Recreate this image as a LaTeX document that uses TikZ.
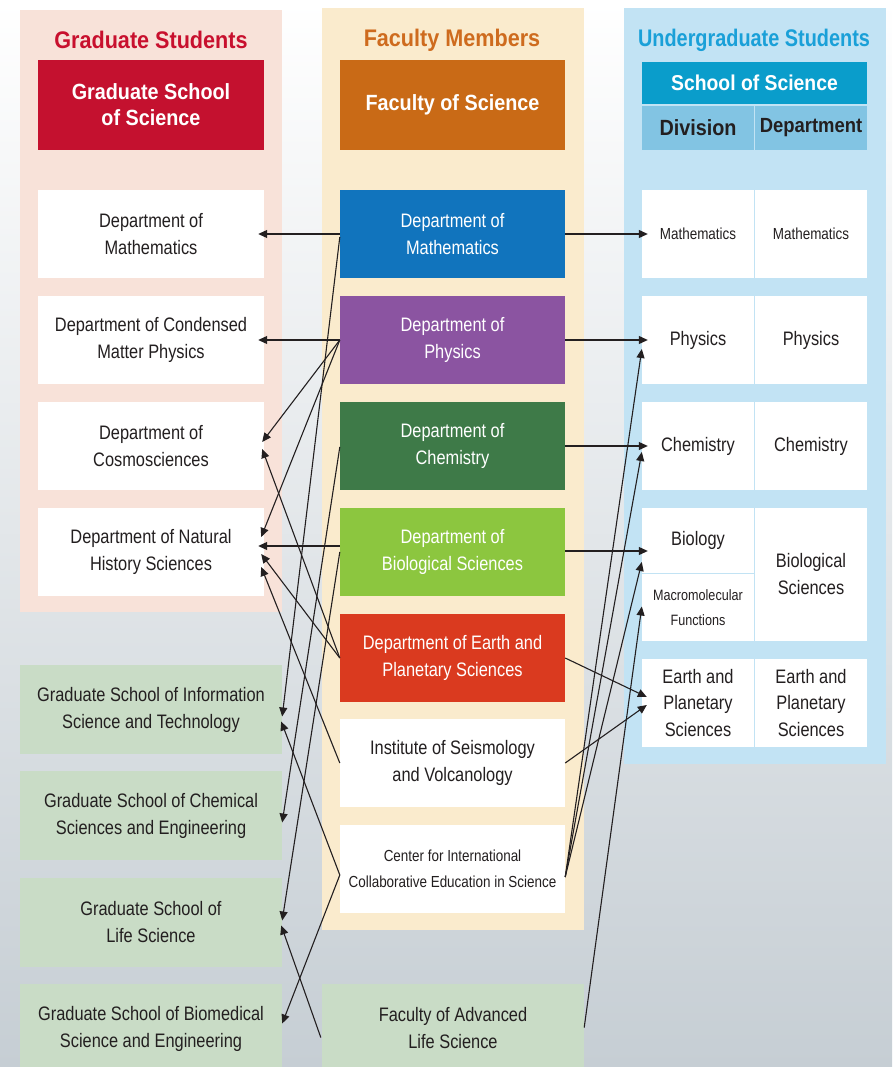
\documentclass[tikz,border=0pt]{standalone}
\usepackage{fontspec}
\setmainfont{Liberation Sans}[FakeStretch=0.84]
\newfontfamily\hdf{Liberation Sans}[FakeStretch=0.9]
\usetikzlibrary{arrows.meta,calc}
\definecolor{bgb}{HTML}{C6CED4}
\definecolor{bgm}{HTML}{F2F6F8}
\definecolor{pinkp}{HTML}{F8E2D9}
\definecolor{creamp}{HTML}{FAEBCD}
\definecolor{bluep}{HTML}{C2E3F4}
\definecolor{gradred}{HTML}{C8102E}
\definecolor{facor}{HTML}{CE6B1E}
\definecolor{ugblue}{HTML}{1AA0D8}
\definecolor{gsred}{HTML}{C4112F}
\definecolor{fsor}{HTML}{C96A16}
\definecolor{ssblue}{HTML}{0A9DCB}
\definecolor{ddblue}{HTML}{82C4E3}
\definecolor{txt}{HTML}{231F20}
\definecolor{lc}{HTML}{231F20}
\definecolor{sage}{HTML}{C9DCC6}
\definecolor{cmath}{HTML}{1174BD}
\definecolor{cphys}{HTML}{8B54A1}
\definecolor{cchem}{HTML}{3E7A48}
\definecolor{cbio}{HTML}{8CC63F}
\definecolor{ceps}{HTML}{DA3A1F}
\begin{document}
\begin{tikzpicture}[x=1pt,y=-1pt,
  base/.style={rectangle, inner sep=0pt, align=center, text=txt, font=\fontsize{19.5}{27}\selectfont},
  gbox/.style={base, fill=white, minimum width=226pt, minimum height=88pt},
  sbox/.style={base, fill=sage, minimum width=262pt, minimum height=89pt},
  fbox/.style={base, minimum width=225pt, minimum height=88pt, text=white},
  ubox/.style={base, fill=white, minimum width=112pt, minimum height=88pt},
  hd/.style={inner sep=0pt, font=\hdf\bfseries\fontsize{24}{28}\selectfont},
  hbox/.style={rectangle, inner sep=0pt, align=center, text=white, font=\hdf\bfseries\fontsize{22}{26}\selectfont},
  arr/.style={draw=lc, line width=1.1pt, -{Triangle[length=9pt,width=8pt]}}]
\useasboundingbox (0,0) rectangle (892,1067);
\fill[top color=white, middle color=bgm, bottom color=bgb] (0,0) rectangle (892,1067);
% panels
\fill[pinkp] (20,10) rectangle (282,612);
\fill[creamp] (322,8) rectangle (584,930);
\fill[bluep] (624,8) rectangle (886,764);
% headers
\node[hd, text=gradred] (tgrad) at (151,40) {Graduate Students};
\node[hd, text=facor] (tfac) at (452,40) {Faculty Members};
\node[hd, text=ugblue] (tug) at (754,40) {\scalebox{0.92}[1]{Undergraduate Students}};
\node[hbox, fill=gsred, minimum width=226pt, minimum height=90pt] (gss) at (151,105) {Graduate School\\of Science};
\node[hbox, fill=fsor, minimum width=225pt, minimum height=90pt] (fs) at (452.5,105) {Faculty of Science};
\node[hbox, fill=ssblue, minimum width=225pt, minimum height=42pt, font=\hdf\bfseries\fontsize{21.5}{26}\selectfont] (ss) at (754.5,83) {School of Science};
\node[hbox, fill=ddblue, text=txt, minimum width=112pt, minimum height=44pt] (hdiv) at (698,128) {Division};
\node[hbox, fill=ddblue, text=txt, minimum width=112pt, minimum height=44pt, font=\hdf\bfseries\fontsize{20.5}{26}\selectfont] (hdep) at (811,128) {Department};
% graduate column
\node[gbox] (gmath) at (151,234) {Department of\\Mathematics};
\node[gbox] (gcmp) at (151,340) {Department of Condensed\\Matter Physics};
\node[gbox] (gcosmo) at (151,446) {Department of\\Cosmosciences};
\node[gbox] (gnat) at (151,552) {Department of Natural\\History Sciences};
\node[sbox] (gist) at (151,709.5) {Graduate School of Information\\Science and Technology};
\node[sbox] (gcse) at (151,815.5) {Graduate School of Chemical\\Sciences and Engineering};
\node[sbox] (gls) at (151,922.5) {Graduate School of\\Life Science};
\node[sbox] (gbse) at (151,1028.5) {Graduate School of Biomedical\\Science and Engineering};
% faculty column
\node[fbox, fill=cmath] (fmath) at (452.5,234) {Department of\\Mathematics};
\node[fbox, fill=cphys] (fphys) at (452.5,340) {Department of\\Physics};
\node[fbox, fill=cchem] (fchem) at (452.5,446) {Department of\\Chemistry};
\node[fbox, fill=cbio] (fbio) at (452.5,552) {Department of\\Biological Sciences};
\node[fbox, fill=ceps] (feps) at (452.5,658) {Department of Earth and\\Planetary Sciences};
\node[fbox, fill=white, text=txt] (isv) at (452.5,763) {Institute of Seismology\\and Volcanology};
\node[fbox, fill=white, text=txt, font=\fontsize{16}{26}\selectfont] (cies) at (452.5,869) {Center for International\\Collaborative Education in Science};
\node[sbox] (fals) at (453,1028.5) {Faculty of Advanced\\Life Science};
% undergraduate column
\node[ubox, font=\fontsize{16}{26}\selectfont] (umd) at (698,234) {Mathematics};
\node[ubox, font=\fontsize{16}{26}\selectfont] (umdp) at (811,234) {Mathematics};
\node[ubox] (upd) at (698,340) {Physics};
\node[ubox] (updp) at (811,340) {Physics};
\node[ubox] (ucd) at (698,446) {Chemistry};
\node[ubox] (ucdp) at (811,446) {Chemistry};
\node[ubox, minimum height=65pt] (ubd) at (698,540.5) {Biology};
\node[ubox, minimum height=67pt, font=\fontsize{15}{25}\selectfont] (umf) at (698,607.5) {Macromolecular\\Functions};
\node[ubox, minimum height=133pt] (ubs) at (811,574.5) {Biological\\Sciences};
\node[ubox, font=\fontsize{19.5}{26.5}\selectfont] (ued) at (698,703) {Earth and\\Planetary\\Sciences};
\node[ubox, font=\fontsize{19.5}{26.5}\selectfont] (uedp) at (811,703) {Earth and\\Planetary\\Sciences};
% connectors to graduate column
\draw[arr] (fmath.west) -- ($(gmath.east)+(-6,0)$);
\draw[arr] ($(fmath.west)+(0,3)$) -- ($(gist.east)+(0,7)$);
\draw[arr] (fphys.west) -- ($(gcmp.east)+(-6,0)$);
\draw[arr] (fphys.west) -- ($(gcosmo.east)+(-2,-4)$);
\draw[arr] (fphys.west) -- ($(gnat.east)+(-3,-15)$);
\draw[arr] ($(fchem.west)+(0,1)$) -- ($(gcse.east)+(0,7)$);
\draw[arr] ($(fbio.west)+(0,-6)$) -- ($(gnat.east)+(-6,-6)$);
\draw[arr] (fbio.west) -- ($(gls.east)+(0,-2)$);
\draw[arr] (feps.west) -- ($(gcosmo.east)+(-2,3)$);
\draw[arr] (feps.west) -- ($(gnat.east)+(-3,2)$);
\draw[arr] (isv.west) -- ($(gnat.east)+(-3,15)$);
\draw[arr] ($(cies.west)+(0,6)$) -- ($(gist.east)+(-1,12)$);
\draw[arr] ($(cies.west)+(0,6)$) -- ($(gbse.east)+(0,-5)$);
\draw[arr] ($(fals.west)+(-1,9)$) -- ($(gls.east)+(-1,3)$);
% connectors to undergraduate column
\draw[arr] (fmath.east) -- ($(umd.west)+(6,0)$);
\draw[arr] (fphys.east) -- ($(upd.west)+(6,0)$);
\draw[arr] (fchem.east) -- ($(ucd.west)+(6,0)$);
\draw[arr] ($(fbio.east)+(0,-1)$) -- ($(ubd.west)+(6,10.5)$);
\draw[arr] (feps.east) -- ($(ued.west)+(5,-6)$);
\draw[arr] (isv.east) -- ($(ued.west)+(5,2)$);
\draw[arr] ($(cies.east)+(0,8)$) -- ($(upd.west)+(0,9)$);
\draw[arr] ($(cies.east)+(0,8)$) -- ($(ucd.west)+(0,6)$);
\draw[arr] ($(cies.east)+(0,8)$) -- ($(ubd.west)+(0,21.5)$);
\draw[arr] ($(fals.east)+(0,-1)$) -- ($(umf.west)+(0,-1)$);
\end{tikzpicture}
\end{document}
